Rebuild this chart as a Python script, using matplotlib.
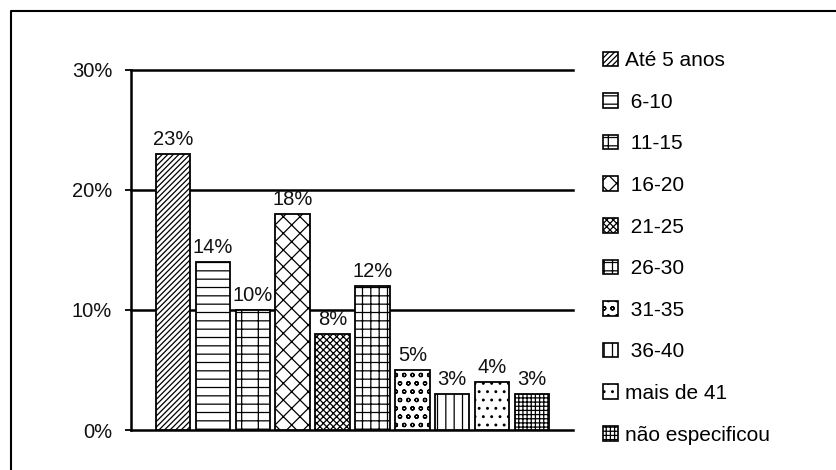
import matplotlib
matplotlib.use("Agg")
import matplotlib.pyplot as plt
from matplotlib.lines import Line2D
from matplotlib.patches import Patch
from matplotlib.ticker import PercentFormatter

categories = [
    "Até 5 anos", " 6-10", " 11-15", " 16-20", " 21-25",
    " 26-30", " 31-35", " 36-40", "mais de 41", "não especificou",
]
values = [23, 14, 10, 18, 8, 12, 5, 3, 4, 3]
hatches = ["//////", "--", "-|-", "xx", "xxxxx", "++", "oo", "||", "..", "++++"]
yticks = [0, 10, 20, 30]

plt.rcParams["font.family"] = ["Liberation Sans", "DejaVu Sans"]
plt.rcParams["hatch.linewidth"] = 0.9
plt.rcParams["hatch.color"] = "black"

fig = plt.figure(figsize=(8.37, 4.70), dpi=100)
ax = fig.add_axes([0.1565, 0.0851, 0.5281, 0.7660])

xs = list(range(len(values)))
bars = ax.bar(xs, values, width=0.86, color="white", edgecolor="black",
              linewidth=1.3, zorder=3)
for bar, h in zip(bars, hatches):
    bar.set_hatch(h)

for x, v in zip(xs, values):
    ax.annotate(f"{v}%", (x, v), xytext=(0, 3.5), textcoords="offset points",
                ha="center", va="bottom", fontsize=14.5, color="#111111",
                zorder=4)

ax.set_xlim(-1.05, 10.025)
ax.set_ylim(0, 30)
ax.set_yticks(yticks)
ax.yaxis.set_major_formatter(PercentFormatter(decimals=0))
ax.tick_params(axis="y", length=4.5, width=1.4, labelsize=14.5, pad=9,
               colors="#111111")
ax.tick_params(axis="x", bottom=False, labelbottom=False)
for y in yticks[1:]:
    ax.axhline(y, color="black", linewidth=1.8, zorder=1, clip_on=False)
for side in ("top", "right"):
    ax.spines[side].set_visible(False)
for side in ("left", "bottom"):
    ax.spines[side].set_linewidth(1.8)

handles = [Patch(facecolor="white", edgecolor="black", hatch=h, linewidth=1.2)
           for h in hatches]
fig.legend(handles, categories, loc="upper left",
           bbox_to_anchor=(0.711, 0.909), frameon=False, fontsize=15,
           handlelength=0.7, handleheight=0.7, handletextpad=0.35,
           labelspacing=1.085, borderaxespad=0)

# frame drawn around the figure's top-left
fig.add_artist(Line2D([0.0131, 0.0131, 1.01], [-0.01, 0.9766, 0.9766],
                      transform=fig.transFigure, color="black", linewidth=1.5))

fig.savefig("out.png", dpi=100)
